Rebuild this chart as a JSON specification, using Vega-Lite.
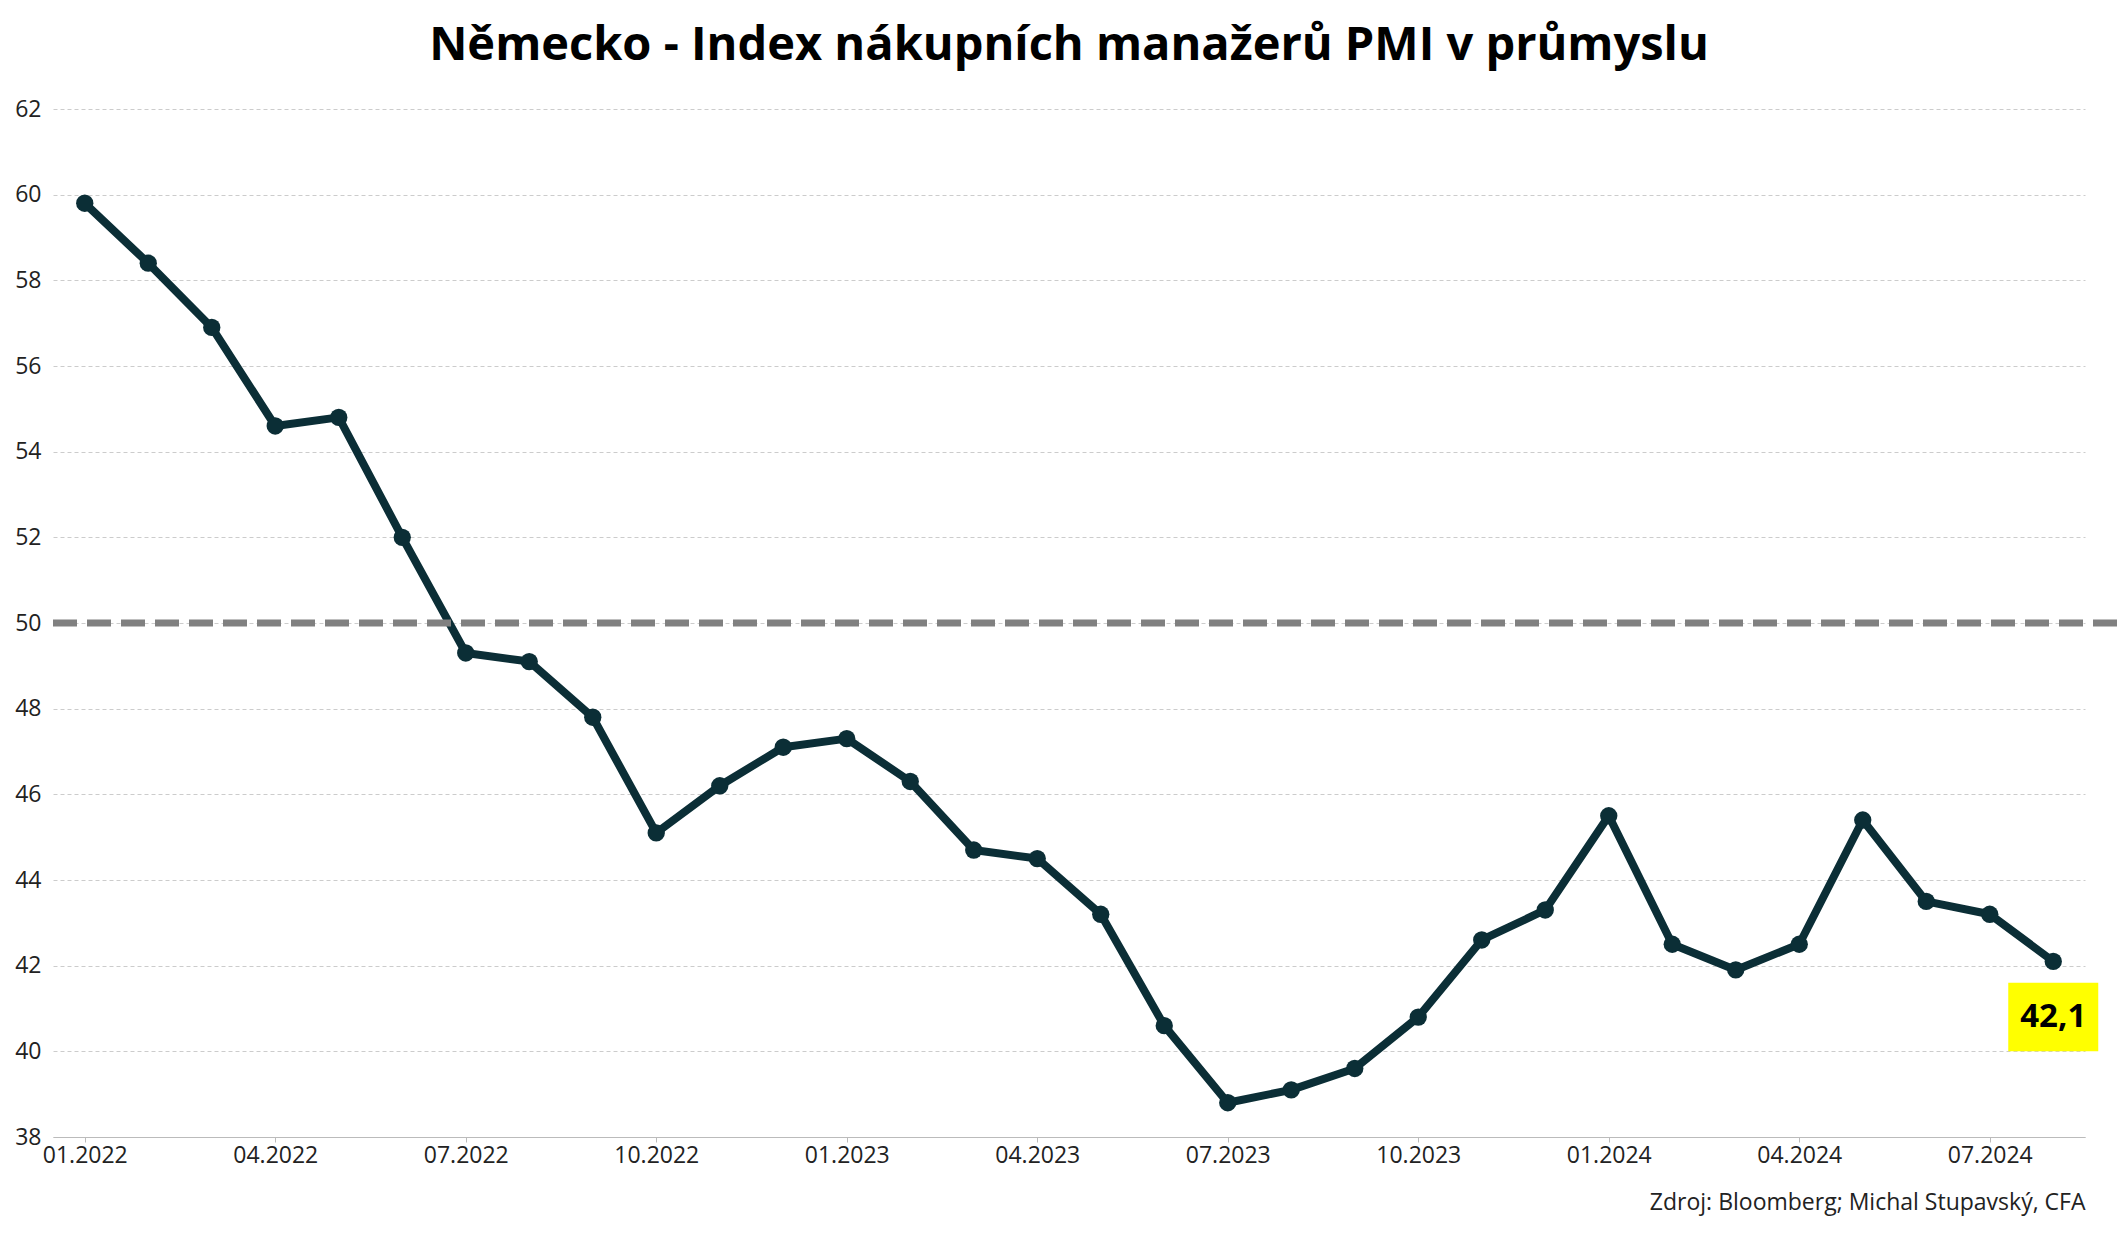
{
"$schema":"https://vega.github.io/schema/vega-lite/v6.json",
"width":2127,"height":1234,
"autosize":{"type":"fit","contains":"padding"},
"padding":{"left":14,"right":30,"top":22,"bottom":20},
"background":"white",
"title":{"text":"Německo - Index nákupních manažerů PMI v průmyslu","font":"Open Sans","fontSize":47,"fontWeight":"bold","color":"#000","offset":28},
"config":{"view":{"stroke":null},"axis":{"labelFont":"Open Sans","labelFontSize":23,"labelColor":"#222","titleFont":"Open Sans"}},
"datasets":{"pmi":[
{"m":"01.2022","v":59.8},{"m":"02.2022","v":58.4},{"m":"03.2022","v":56.9},{"m":"04.2022","v":54.6},{"m":"05.2022","v":54.8},{"m":"06.2022","v":52.0},{"m":"07.2022","v":49.3},{"m":"08.2022","v":49.1},{"m":"09.2022","v":47.8},{"m":"10.2022","v":45.1},{"m":"11.2022","v":46.2},{"m":"12.2022","v":47.1},
{"m":"01.2023","v":47.3},{"m":"02.2023","v":46.3},{"m":"03.2023","v":44.7},{"m":"04.2023","v":44.5},{"m":"05.2023","v":43.2},{"m":"06.2023","v":40.6},{"m":"07.2023","v":38.8},{"m":"08.2023","v":39.1},{"m":"09.2023","v":39.6},{"m":"10.2023","v":40.8},{"m":"11.2023","v":42.6},{"m":"12.2023","v":43.3},
{"m":"01.2024","v":45.5},{"m":"02.2024","v":42.5},{"m":"03.2024","v":41.9},{"m":"04.2024","v":42.5},{"m":"05.2024","v":45.4},{"m":"06.2024","v":43.5},{"m":"07.2024","v":43.2},{"m":"08.2024","v":42.1}],
"lab":[{"m":"08.2024","y1":40.0,"y2":41.6,"yt":40.8,"t":"42,1"}]},
"encoding":{"x":{"field":"m","type":"ordinal","sort":null,"scale":{"type":"point","padding":0.5},
 "axis":{"values":["01.2022","04.2022","07.2022","10.2022","01.2023","04.2023","07.2023","10.2023","01.2024","04.2024","07.2024"],"labelAngle":0,"domainColor":"#bbb","tickColor":"#bbb","grid":false,"title":"Zdroj: Bloomberg; Michal Stupavský, CFA","titleAnchor":"end","titleAlign":"right","titleFontSize":23,"titleFontWeight":"normal","titlePadding":24,"titleColor":"#222"}}},
"layer":[
{"data":{"name":"pmi"},"mark":{"type":"line","color":"#0b2e36","strokeWidth":8,"strokeJoin":"round"},
 "encoding":{"y":{"field":"v","type":"quantitative","scale":{"domain":[38,62],"nice":false,"zero":false},"axis":{"values":[38,40,42,44,46,48,50,52,54,56,58,60,62],"title":null,"domain":false,"ticks":false,"gridDash":[4,3],"gridColor":"#ccc","labelPadding":12}}}},
{"data":{"name":"pmi"},"mark":{"type":"point","filled":true,"opacity":1,"color":"#0b2e36","size":300},"encoding":{"y":{"field":"v","type":"quantitative"}}},
{"data":{"values":[{}]},"mark":{"type":"rule","color":"#808080","strokeWidth":7,"strokeDash":[24,10]},"encoding":{"y":{"datum":50},"x":{"value":0},"x2":{"value":2085}}},
{"data":{"name":"lab"},"mark":{"type":"rect","color":"#ffff00","width":90},"encoding":{"y":{"field":"y1","type":"quantitative"},"y2":{"field":"y2"}}},
{"data":{"name":"lab"},"mark":{"type":"text","font":"Open Sans","fontSize":33,"fontWeight":"bold","color":"#000"},"encoding":{"y":{"field":"yt","type":"quantitative"},"text":{"field":"t"}}}
]}
